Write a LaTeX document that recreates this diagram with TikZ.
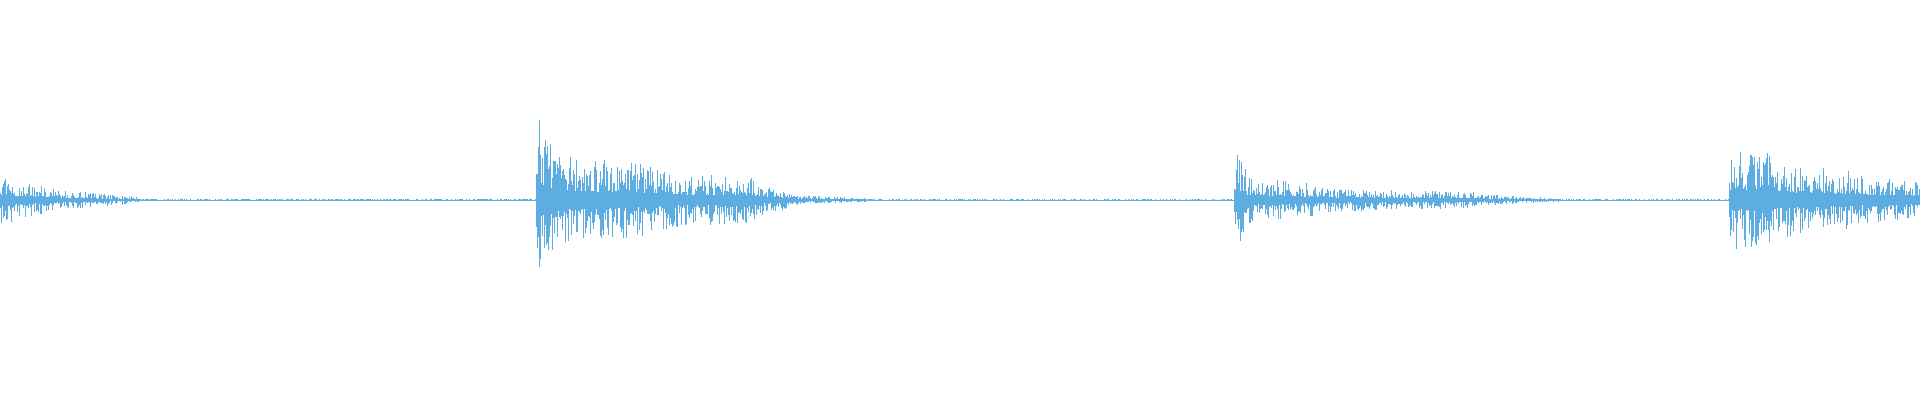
\documentclass[tikz,border=0pt]{standalone}
\definecolor{wave}{RGB}{93,173,226}
\begin{document}
\begin{tikzpicture}[x=1pt,y=1pt,wv/.style={wave,line width=0.9pt}]
\useasboundingbox (0,0) rectangle (1920,400);
\pgfmathsetseed{42}
\draw[wv,line width=0.7pt] (0,200) -- (1920,200);
\foreach \xa/\xb/\aa/\ab in {0/12/24/26,12/60/20/10,60/140/10/3,140/536/1.2/1.2,536/545/88/70,545/560/62/45,560/650/45/36,650/700/34/22,700/760/26/22,760/800/16/5,800/870/5/1.5,870/1234/1/1,1234/1245/50/35,1245/1330/24/14,1330/1480/12/8,1480/1560/6/1.5,1560/1729/1/1,1729/1740/48/52,1740/1770/44/65,1770/1860/40/27,1860/1920/24/20}{
  \foreach \x in {\xa,...,\xb}{
    \pgfmathsetmacro{\a}{\aa+(\ab-\aa)*(\x-\xa)/max(1,\xb-\xa)}
    \pgfmathsetmacro{\ru}{\a*(0.2+0.8*rnd^1.7)}
    \pgfmathsetmacro{\rd}{\a*(0.2+0.8*rnd^1.7)}
    \draw[wv] (\x,200+\ru) -- (\x,200-\rd);
  }
}
\end{tikzpicture}
\end{document}
